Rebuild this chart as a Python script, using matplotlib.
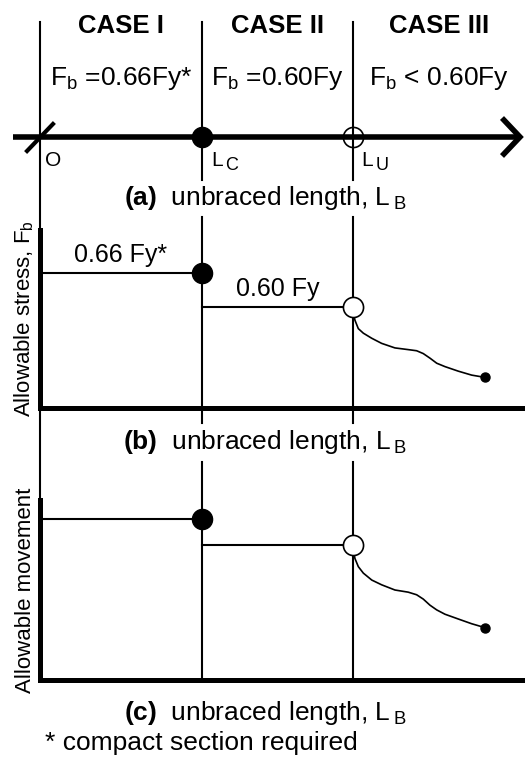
import matplotlib
matplotlib.use("Agg")
import matplotlib.pyplot as plt

plt.rcParams['font.family'] = 'Liberation Sans'
plt.rcParams['mathtext.fontset'] = 'custom'
plt.rcParams['mathtext.rm'] = 'Liberation Sans'
plt.rcParams['mathtext.bf'] = 'Liberation Sans:bold'
plt.rcParams['mathtext.it'] = 'Liberation Sans:italic'

# ---- data (x = unbraced length, L_C = 1) ----
case_names = ['CASE I', 'CASE II', 'CASE III']
case_rules = [r'$\mathrm{F_b}$ =0.66Fy*', r'$\mathrm{F_b}$ =0.60Fy', r'$\mathrm{F_b}$ < 0.60Fy']
breaks = [0.0, 1.0, 1.93]          # O, L_C, L_U
break_names = ['O', 'L', 'L']
break_subs = ['', 'C', 'U']
x_end = 2.994
level_labels = ['0.66 Fy*', '0.60 Fy']
stress_levels = [0.66, 0.60]
moment_levels = [0.66, 0.60]
curve_x = [1.93, 1.944, 1.965, 1.996, 2.048, 2.109, 2.191, 2.273, 2.325, 2.366,
           2.407, 2.449, 2.500, 2.582, 2.665, 2.747]
stress_curve = [0.60, 0.577, 0.562, 0.554, 0.545, 0.536, 0.528, 0.525, 0.523, 0.518,
                0.510, 0.501, 0.495, 0.487, 0.480, 0.476]
moment_curve = [0.60, 0.569, 0.550, 0.535, 0.519, 0.508, 0.496, 0.491, 0.485, 0.475,
                0.461, 0.450, 0.440, 0.429, 0.418, 0.409]
panel_titles = ['(a)', '(b)', '(c)']

W, H = 525, 761
fig = plt.figure(figsize=(W / 100, H / 100), dpi=100)

# background axes: x in length units, y in pixels from the top
ax0 = fig.add_axes([0, 0, 1, 1])
ax0.set_xlim(breaks[0] - 40 / 162, x_end)
ax0.set_ylim(H, 0)
ax0.axis('off')

thin = 1.5
# long vertical guide lines, broken where the panel captions sit
ax0.plot([breaks[0], breaks[0]], [22, 680], color='k', lw=thin)
for xb in breaks[1:]:
    for y0, y1 in [(22, 180), (217, 423), (462, 680)]:
        ax0.plot([xb, xb], [y0, y1], color='k', lw=thin)

# (a) number line with arrow
ax_y = 137
ax0.plot([breaks[0] - 0.167, 2.955], [ax_y, ax_y], color='k', lw=4, solid_capstyle='butt')
ax0.plot([2.852, 2.963, 2.852], [118, ax_y, 156], color='k', lw=4,
         solid_joinstyle='miter', solid_capstyle='butt')
ax0.plot([breaks[0] - 0.08, breaks[0] + 0.08], [151, 124], color='k', lw=3)
ax0.plot(breaks[1], ax_y, 'o', ms=14.5, color='k')
ax0.plot(breaks[2], ax_y, 'o', ms=14.5, mfc='none', mec='k', mew=1.2)

for i in range(3):
    xl = breaks[i] + (0.03 if i == 0 else 0.055)
    ax0.text(xl, 161, break_names[i], fontsize=15, ha='left', va='center')
    if break_subs[i]:
        ax0.annotate(break_subs[i], (xl, 161), xytext=(10, -3),
                     textcoords='offset points', fontsize=13, ha='left', va='center')

edges = breaks + [x_end]
for i in range(3):
    xm = (edges[i] + edges[i + 1]) / 2
    ax0.text(xm, 26, case_names[i], fontsize=18.5, fontweight='bold', ha='center', va='center')
    ax0.text(xm, 78, case_rules[i], fontsize=19, ha='center', va='center')

for t, yy in zip(panel_titles, [198, 442, 713]):
    ax0.text(1.39, yy, r'$\mathbf{%s}$  unbraced length, L$\,\mathrm{_B}$' % t,
             fontsize=19, ha='center', va='center')
ax0.text(0.03, 743, '* compact section required', fontsize=19, ha='left', va='center')


def panel(top, bottom, ylim, levels, curve, ylabel):
    ax = fig.add_axes([40 / W, 1 - bottom / H, (W - 40) / W, (bottom - top) / H])
    ax.set_facecolor('none')
    ax.set_xlim(0, x_end)
    ax.set_ylim(*ylim)
    for s in ['top', 'right']:
        ax.spines[s].set_visible(False)
    for s in ['left', 'bottom']:
        ax.spines[s].set_linewidth(3.6)
    ax.set_xticks([])
    ax.set_yticks([])
    ax.plot([breaks[0], breaks[1]], [levels[0], levels[0]], color='k', lw=thin)
    ax.plot([breaks[1], breaks[2]], [levels[1], levels[1]], color='k', lw=thin)
    ax.plot(curve_x, curve, color='k', lw=1.2, solid_joinstyle='round')
    ax.plot(breaks[1], levels[0], 'o', ms=14.5, color='k')
    ax.plot(breaks[2], levels[1], 'o', ms=14.5, mfc='white', mec='k', mew=1.2)
    ax.plot(curve_x[-1], curve[-1], 'o', ms=6.5, color='k')
    ax.set_ylabel(ylabel, fontsize=16, labelpad=3)
    return ax


axb = panel(230, 408, (0.422, 0.736), stress_levels, stress_curve,
            r'Allowable stress, $\mathrm{F_b}$')
for i in range(2):
    axb.annotate(level_labels[i], ((edges[i] + edges[i + 1]) / 2, stress_levels[i]),
                 xytext=(0, 13), textcoords='offset points', fontsize=18,
                 ha='center', va='center')

axc = panel(500, 680, (0.288, 0.704), moment_levels, moment_curve, 'Allowable movement')

fig.savefig('out.png', dpi=100)
